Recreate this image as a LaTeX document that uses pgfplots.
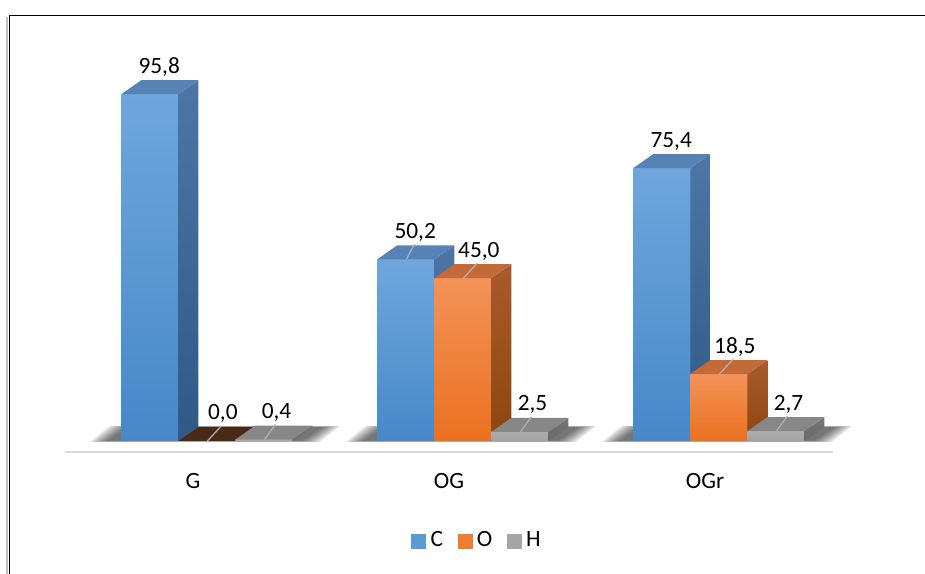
\documentclass[border=0pt]{standalone}
\usepackage{fontspec}
\setmainfont{Carlito}
\usepackage{pgfplots}
\usepackage{pgfplotstable}
\pgfplotsset{compat=1.18}
\pgfkeys{/pgf/number format/assume math mode=true}

% face colours of the three element blocks
\definecolor{blueFT}{HTML}{6FA6DD}
\definecolor{blueFB}{HTML}{4688C9}
\definecolor{blueTop}{HTML}{5782B5}
\definecolor{blueST}{HTML}{4B76A6}
\definecolor{blueSB}{HTML}{2F5A86}
\definecolor{orFT}{HTML}{F49258}
\definecolor{orFB}{HTML}{EA7120}
\definecolor{orTop}{HTML}{C36A38}
\definecolor{orST}{HTML}{A95B2B}
\definecolor{orSB}{HTML}{8C4610}
\definecolor{grFT}{HTML}{ADADAD}
\definecolor{grFB}{HTML}{A0A0A0}
\definecolor{grTop}{HTML}{878787}
\definecolor{grST}{HTML}{767676}
\definecolor{grSB}{HTML}{686868}
\definecolor{zeroTop}{HTML}{4A2917}
\definecolor{legC}{HTML}{5B9BD5}
\definecolor{legO}{HTML}{ED7D31}
\definecolor{legH}{HTML}{A5A5A5}

% element content (%) per sample
\pgfplotstableread{
cat  C    O    H
G    95.8 0.0  0.4
OG   50.2 45.0 2.5
OGr  75.4 18.5 2.7
}\datatable

% one 3-D block drawn around its front top-centre point:
% #1/#2 front gradient, #3 top face, #4/#5 side gradient,
% #6 = 1 draws the soft floor shadow of the group, #7 label offset (pt)
\newcommand\blockbar[7]{%
  \pgfmathsetlengthmacro\h{\val*2.715pt}%
  \ifnum#6=1
    \foreach \e in {13.5,12,...,0}{%
      \fill[black, opacity=0.075, draw=none]
        (-31.9pt-\e pt, -\h-0.06*\e pt) -- (114pt+\e pt, -\h-0.06*\e pt)
        -- (129.6pt+\e pt, -\h+10.5pt+0.06*\e pt) -- (-16.9pt-\e pt, -\h+10.5pt+0.06*\e pt) -- cycle;
    }%
  \fi
  \ifdim\h<0.3pt \def\topc{zeroTop}\else\def\topc{#3}\fi
  \ifdim\h>0.3pt
    \shade[draw=none, top color=#1, bottom color=#2] (-21.375pt,-\h) rectangle (21.375pt,0pt);
    \shade[draw=none, top color=#4, bottom color=#5] (21.375pt,0pt) -- (36.375pt,10.5pt) -- (36.375pt,10.5pt-\h) -- (21.375pt,-\h) -- cycle;
  \fi
  \fill[\topc, draw=none] (-21.375pt,0pt) -- (21.375pt,0pt) -- (36.375pt,10.5pt) -- (-6.375pt,10.5pt) -- cycle;
  % leader line to a label lifted off the block
  \ifdim\h<160pt
    \draw[black!30, line width=0.9pt] (0.4pt,0pt) -- ({#7*0.9},11.25pt);
  \fi
}

\pgfdeclareplotmark{blockC}{\blockbar{blueFT}{blueFB}{blueTop}{blueST}{blueSB}{1}{7pt}}
\pgfdeclareplotmark{blockO}{\blockbar{orFT}{orFB}{orTop}{orST}{orSB}{0}{12pt}}
\pgfdeclareplotmark{blockH}{\blockbar{grFT}{grFB}{grTop}{grST}{grSB}{0}{9.5pt}}

\pgfplotsset{
  block/.style 2 args={%
    scatter, only marks, mark=#1, forget plot,
    mark options={draw=none},
    point meta=rawy,
    visualization depends on={rawy \as \val},
    scatter/@pre marker code/.code={},
    scatter/@post marker code/.code={},
    nodes near coords={\pgfmathprintnumber[fixed,fixed zerofill,precision=1,use comma]{\pgfplotspointmeta}},
    every node near coord/.append style={anchor=base, inner sep=0pt, text=black,
      yshift=15.75pt, xshift=#2},
  },
}

\begin{document}
\fontsize{17.5pt}{21pt}\selectfont
\begin{tikzpicture}
\path[use as bounding box] (0pt,0pt) rectangle (693.75pt,430.5pt);
% chart frame
\draw[black!25, line width=1.5pt] (5.6pt,-10pt) -- (5.6pt,417.5pt);
\draw[black, line width=1.4pt] (7.1pt,-10pt) -- (7.1pt,418.9pt) -- (710pt,418.9pt);

\begin{axis}[
  at={(48.75pt,91.5pt)}, anchor=south west,
  scale only axis,
  x=192pt, y=2.715pt,
  xmin=-0.5, xmax=2.5, ymin=-3.04, ymax=100,
  clip=false,
  axis x line*=bottom, axis y line=none,
  x axis line style={draw=black!15, line width=1.5pt, -},
  xtick={0,1,2}, xticklabels={G,OG,OGr},
  major tick length=0pt,
  xticklabel style={anchor=base, yshift=-27.75pt},
  ytick=\empty,
  legend columns=3,
  legend style={at={(0.537,-0.2386)}, anchor=center, draw=none, fill=none,
    inner sep=0pt,
    /tikz/every odd column/.append style={column sep=1.5pt},
    /tikz/every even column/.append style={column sep=9pt}},
]
\addplot[block={blockC}{7pt}]
  table[x expr=\coordindex-0.1685, y=C] {\datatable};
\addplot[block={blockO}{12pt}]
  table[x expr=\coordindex+0.0542, y=O] {\datatable};
\addplot[block={blockH}{9.5pt}]
  table[x expr=\coordindex+0.2769, y=H] {\datatable};

\addlegendimage{legend image code/.code={\fill[legC] (0pt,-5.25pt) rectangle (10.5pt,5.25pt);}}
\addlegendentry{C}
\addlegendimage{legend image code/.code={\fill[legO] (0pt,-5.25pt) rectangle (10.5pt,5.25pt);}}
\addlegendentry{O}
\addlegendimage{legend image code/.code={\fill[legH] (0pt,-5.25pt) rectangle (10.5pt,5.25pt);}}
\addlegendentry{H}
\end{axis}
\end{tikzpicture}
\end{document}
